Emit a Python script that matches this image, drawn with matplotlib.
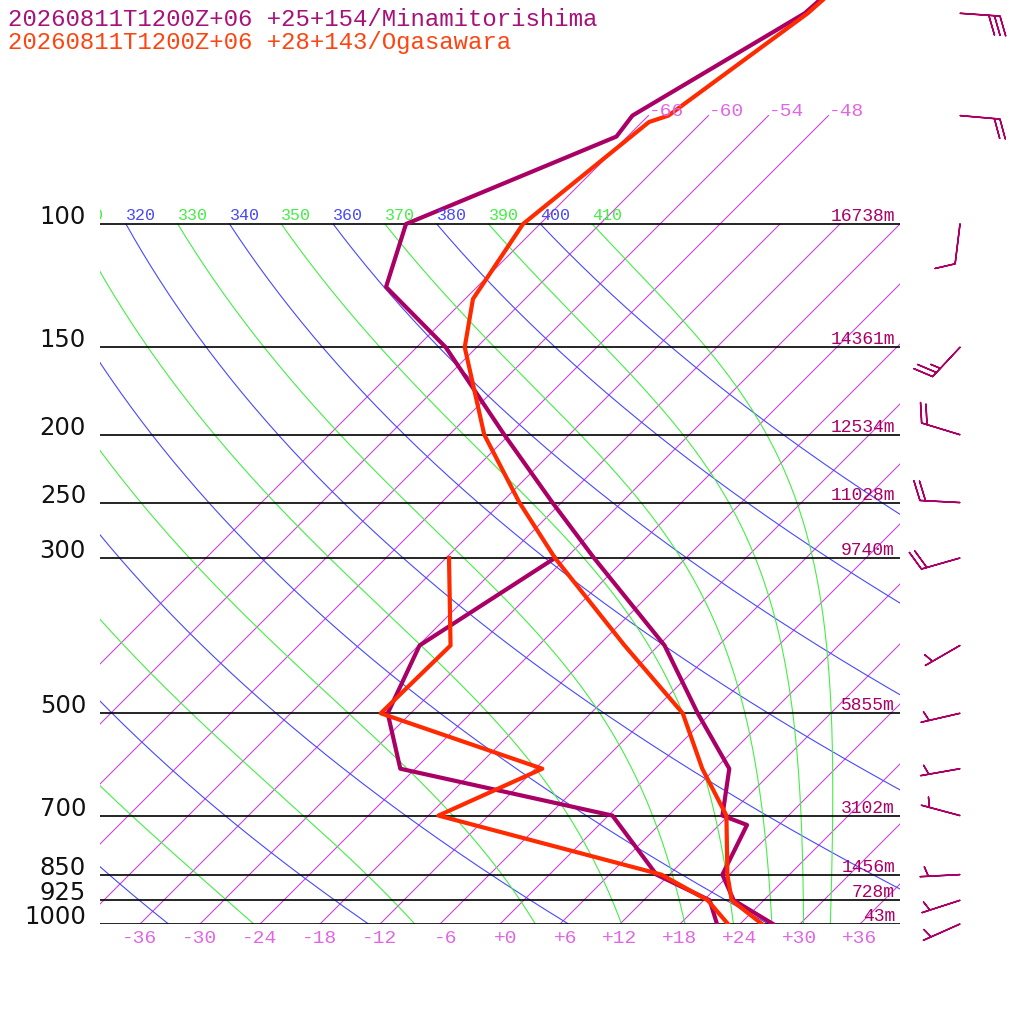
import numpy as np
import matplotlib
matplotlib.use("Agg")
import matplotlib.pyplot as plt
from matplotlib import transforms

# ---- values ----
title_mina = "20260811T1200Z+06 +25+154/Minamitorishima"
title_oga = "20260811T1200Z+06 +28+143/Ogasawara"

# Minamitorishima (purple)
mina_temp_p = [1000, 925, 850, 722, 700, 600, 500, 400, 300, 250, 200, 150, 123, 100, 75, 70, 50, 30]
mina_temp_t = [27.3, 21.0, 17.3, 14.8, 11.4, 7.4, -1.3, -11.4, -27.2, -36.9, -48.5, -63.1, -75.1, -79.4, -67.1, -67.6, -60.6, -58.5]
mina_dew_p = [1000, 925, 850, 700, 600, 500, 400, 300]
mina_dew_t = [21.7, 18.6, 10.7, 0.4, -25.5, -32.3, -35.9, -31.1]

# Ogasawara (red)
oga_temp_p = [1000, 925, 850, 700, 600, 500, 400, 300, 250, 200, 150, 128, 100, 71.5, 70, 50, 30]
oga_temp_t = [26.2, 20.8, 17.8, 11.8, 4.7, -2.8, -15.4, -31.1, -40.2, -50.5, -61.2, -65.2, -67.7, -65.3, -64.0, -60.3, -58.3]
oga_dew_p = [1000, 925, 850, 700, 600, 500, 400, 300]
oga_dew_t = [22.8, 18.4, 11.2, -17.0, -11.3, -33.0, -32.8, -41.7]

# standard levels and geopotential heights (Minamitorishima)
level_p = [100, 150, 200, 250, 300, 500, 700, 850, 925, 1000]
level_h = [16738, 14361, 12534, 11028, 9740, 5855, 3102, 1456, 728, 43]

# winds (Minamitorishima): direction deg, speed kt
wind_p = [50, 70, 100, 150, 200, 250, 300, 400, 500, 600, 700, 850, 925, 1000]
wind_dir = [94, 95, 187, 223, 287, 273, 254, 240, 257, 260, 285, 267, 252, 246]
wind_spd = [30, 20, 10, 25, 20, 20, 20, 5, 5, 5, 5, 5, 5, 5]

# background grid
isotherms = list(range(-66, 37, 6))
bottom_ticks = list(range(-36, 37, 6))
dry_thetas = list(range(220, 401, 20))
moist_thetas = list(range(230, 411, 20))

# ---- colours ----
PURPLE = "#aa0066"
RED = "#ff2a00"
ISO = "#cc44dd"
ISO_TXT = "#e066e6"
BLUE = "#4848ff"
GREEN = "#44ee44"

# ---- skew-T geometry ----
PX_PER_LN = 304.0
PX_PER_DEG = 10.0
SKEW = PX_PER_LN / PX_PER_DEG
P_TOP = 1000.0 * np.exp(-924.0 / PX_PER_LN)
KAPPA = 0.2857
RD, CP, LV, EPS = 287.04, 1005.7, 2.501e6, 0.622


def skew_x(t, p):
    return np.asarray(t, float) + SKEW * np.log(1000.0 / np.asarray(p, float))


def moist_lapse(t, p):
    tc = t - 273.15
    es = 6.112 * np.exp(17.67 * tc / (tc + 243.5))
    rs = EPS * es / (p - es)
    return (RD * t + LV * rs) / (p * (CP + LV * LV * rs * EPS / (RD * t * t)))


def moist_adiabat(theta, p):
    t = theta * (p[0] / 1000.0) ** KAPPA
    out = [t]
    for p0, p1 in zip(p[:-1], p[1:]):
        k1 = moist_lapse(t, p0)
        k2 = moist_lapse(t + 0.5 * (p1 - p0) * k1, 0.5 * (p0 + p1))
        t = t + (p1 - p0) * k2
        out.append(t)
    return np.array(out) - 273.15


fig = plt.figure(figsize=(10.24, 10.24), dpi=100)
ax = fig.add_axes([100 / 1024, 100 / 1024, 800 / 1024, 924 / 1024])
ax.set_yscale("log")
ax.set_xlim(-40, 40)
ax.set_ylim(1000, P_TOP)
ax.axis("off")

mono = "Liberation Mono"

# isotherms
for t in isotherms:
    ptop = 70 if t <= -48 else 100
    pp = np.array([1000, ptop])
    ax.plot(skew_x([t, t], pp), pp, color=ISO, lw=0.8)
    if ptop == 70:
        ax.text(skew_x(t, 70), 70, f"{t:d}", color=ISO_TXT, family=mono,
                fontsize=14, ha="left", va="baseline")

# dry and moist adiabats, labelled where they start at 100 hPa
pgrid = np.geomspace(100, 1000, 300)
lab_tr = transforms.offset_copy(ax.transData, fig=fig, y=4, units="dots")
for th in dry_thetas:
    t = th * (pgrid / 1000.0) ** KAPPA - 273.15
    ax.plot(skew_x(t, pgrid), pgrid, color=BLUE, lw=0.8)
    if skew_x(t[0], 100) > -45:
        ax.text(skew_x(t[0], 100), 100, str(th), color=BLUE, family=mono, fontsize=12,
                ha="left", va="baseline", transform=lab_tr, clip_on=True)
for th in moist_thetas:
    t = moist_adiabat(th, pgrid)
    ax.plot(skew_x(t, pgrid), pgrid, color=GREEN, lw=0.8)
    if skew_x(t[0], 100) > -45:
        ax.text(skew_x(t[0], 100), 100, str(th), color=GREEN, family=mono, fontsize=12,
                ha="left", va="baseline", transform=lab_tr, clip_on=True)

# pressure levels
ax.hlines(level_p, -40, 40, color="black", lw=1.2)
lev_tr = transforms.blended_transform_factory(ax.transAxes, ax.transData)
h_tr = transforms.offset_copy(lev_tr, fig=fig, y=3, units="dots")
for p, h in zip(level_p, level_h):
    ax.text(-0.0175, p, str(p), transform=lev_tr, ha="right", va="baseline",
            family="DejaVu Sans", fontsize=17.5, color="#111111", clip_on=False)
    ax.text(0.99375, p, f"{h}m", transform=h_tr, ha="right", va="baseline",
            family=mono, fontsize=13, color=PURPLE, clip_on=False)

# temperature labels along the bottom
bot_tr = transforms.offset_copy(ax.transData, fig=fig, y=-19, units="dots")
for t in bottom_ticks:
    ax.text(t + 1.7, 1000, f"{t:+d}", transform=bot_tr, ha="right", va="baseline",
            family=mono, fontsize=14, color=ISO_TXT, clip_on=False)

# profiles
ax.plot(skew_x(mina_temp_t, mina_temp_p), mina_temp_p, color=PURPLE, lw=3)
ax.plot(skew_x(mina_dew_t, mina_dew_p), mina_dew_p, color=PURPLE, lw=3)
ax.plot(skew_x(oga_temp_t, oga_temp_p), oga_temp_p, color=RED, lw=3)
ax.plot(skew_x(oga_dew_t, oga_dew_p), oga_dew_p, color=RED, lw=3)

# wind barbs in a linear ln(p) axes beside the diagram
bax = fig.add_axes([900 / 1024, 100 / 1024, 124 / 1024, 924 / 1024])
bax.set_xlim(0, 124)
bax.set_ylim(np.log(1000), np.log(P_TOP))
bax.axis("off")
rad = np.radians(wind_dir)
u = -np.array(wind_spd) * np.sin(rad)
v = -np.array(wind_spd) * np.cos(rad)
# barb shaft in points is length**2 / 2, so 7.6 gives about 40 px
bax.barbs(np.full(len(wind_p), 60.0), np.log(wind_p), u, v, length=7.6, pivot="tip",
          color=PURPLE, linewidth=1.1, clip_on=False,
          sizes=dict(spacing=0.14, height=0.48, width=0.35))

# titles
fig.text(8 / 1024, 1 - 26 / 1024, title_mina, family=mono, fontsize=17.3,
         color="#a8107a", va="baseline")
fig.text(8 / 1024, 1 - 49 / 1024, title_oga, family=mono, fontsize=17.3,
         color="#ff4411", va="baseline")

fig.savefig("out.png", dpi=100, facecolor="white")
